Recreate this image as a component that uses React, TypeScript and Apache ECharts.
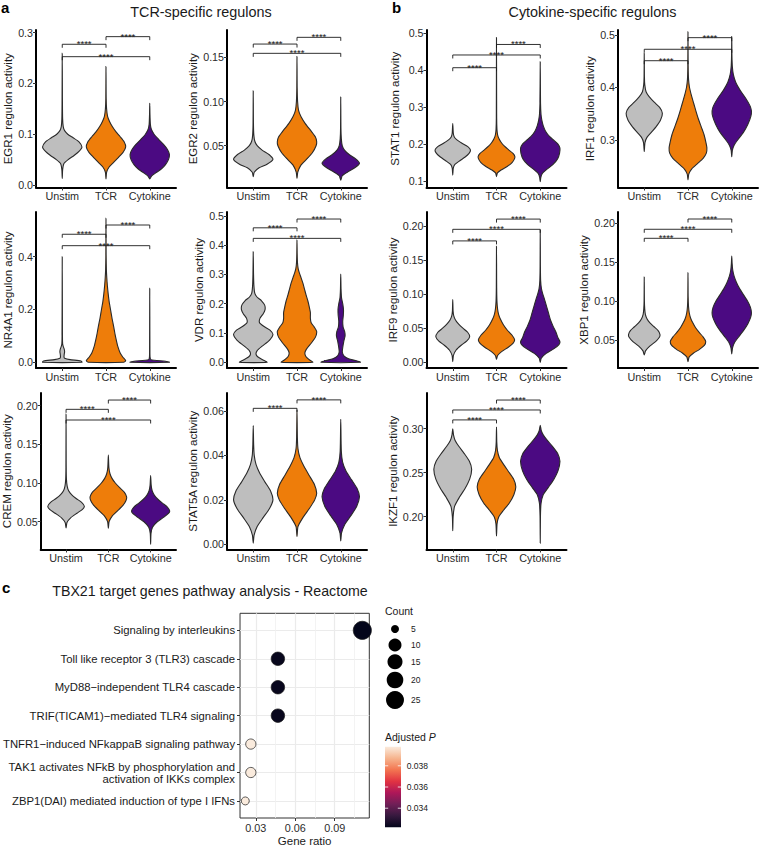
import React, { useEffect, useRef } from 'react';
import * as echarts from 'echarts';

const FONT = '"Liberation Sans", Arial, Helvetica, sans-serif';

const categories = ['Unstim', 'TCR', 'Cytokine'];
const groupColors = ['#BEBEBE', '#EE7D0A', '#4B0A82'];

// ---- Violin profiles: [regulon activity, relative half-width] ----
const egr1Unstim = [[0.013,0],[0.03,0.02],[0.042,0.08],[0.05,0.3],[0.058,0.6],[0.066,0.85],[0.075,1],[0.085,0.85],[0.093,0.55],[0.1,0.28],[0.107,0.12],[0.115,0.05],[0.13,0.02],[0.16,0.01],[0.259,0]];
const egr1TCR = [[0.012,0],[0.025,0.03],[0.035,0.15],[0.045,0.4],[0.055,0.65],[0.065,0.88],[0.075,1],[0.085,0.92],[0.095,0.72],[0.105,0.5],[0.115,0.32],[0.125,0.18],[0.135,0.08],[0.15,0.03],[0.17,0.01],[0.233,0]];
const egr1Cytokine = [[0.012,0],[0.018,0.1],[0.025,0.35],[0.032,0.6],[0.04,0.8],[0.05,0.95],[0.06,1],[0.07,0.9],[0.08,0.7],[0.09,0.45],[0.1,0.22],[0.11,0.08],[0.12,0.03],[0.14,0.01],[0.161,0]];

const egr2Unstim = [[0.015,0],[0.02,0.05],[0.025,0.3],[0.029,0.7],[0.0345,1],[0.04,0.8],[0.045,0.45],[0.05,0.2],[0.055,0.08],[0.062,0.03],[0.075,0.01],[0.112,0]];
const egr2TCR = [[0.013,0],[0.02,0.04],[0.028,0.2],[0.035,0.5],[0.042,0.78],[0.05,0.97],[0.0545,1],[0.06,0.93],[0.067,0.7],[0.075,0.42],[0.083,0.2],[0.09,0.08],[0.1,0.03],[0.115,0.01],[0.151,0]];
const egr2Cytokine = [[0.011,0],[0.016,0.08],[0.02,0.35],[0.025,0.75],[0.03,1],[0.035,0.8],[0.04,0.45],[0.045,0.2],[0.05,0.08],[0.058,0.03],[0.07,0.01],[0.105,0]];

const stat1Unstim = [[0.116,0],[0.135,0.03],[0.145,0.12],[0.155,0.4],[0.165,0.7],[0.175,0.92],[0.184,1],[0.193,0.85],[0.203,0.5],[0.212,0.22],[0.22,0.08],[0.23,0.03],[0.256,0]];
const stat1TCR = [[0.112,0],[0.122,0.05],[0.13,0.25],[0.14,0.6],[0.15,0.85],[0.16,0.98],[0.167,1],[0.175,0.9],[0.185,0.65],[0.195,0.42],[0.205,0.25],[0.215,0.13],[0.225,0.06],[0.24,0.025],[0.27,0.01],[0.489,0]];
const stat1Cytokine = [[0.098,0],[0.11,0.03],[0.12,0.1],[0.13,0.3],[0.145,0.65],[0.16,0.88],[0.175,0.98],[0.189,1],[0.2,0.9],[0.21,0.7],[0.22,0.48],[0.235,0.27],[0.25,0.15],[0.265,0.08],[0.28,0.04],[0.31,0.015],[0.423,0]];

const irf1Unstim = [[0.278,0],[0.295,0.04],[0.305,0.15],[0.315,0.4],[0.325,0.65],[0.338,0.9],[0.351,1],[0.362,0.85],[0.372,0.55],[0.382,0.28],[0.392,0.1],[0.405,0.03],[0.42,0.01],[0.465,0]];
const irf1TCR = [[0.224,0],[0.235,0.04],[0.245,0.2],[0.255,0.5],[0.265,0.8],[0.275,0.97],[0.285,1],[0.295,0.95],[0.31,0.85],[0.325,0.7],[0.34,0.55],[0.355,0.42],[0.37,0.3],[0.385,0.18],[0.4,0.08],[0.415,0.03],[0.44,0.01],[0.506,0]];
const irf1Cytokine = [[0.268,0],[0.28,0.03],[0.29,0.12],[0.3,0.3],[0.315,0.6],[0.33,0.82],[0.345,0.97],[0.355,1],[0.365,0.93],[0.38,0.7],[0.395,0.42],[0.41,0.2],[0.425,0.08],[0.44,0.03],[0.46,0.01],[0.497,0]];

const nr4a1Unstim = [[0,1],[0.005,0.95],[0.01,0.4],[0.015,0.12],[0.02,0.09],[0.03,0.1],[0.04,0.12],[0.05,0.1],[0.06,0.05],[0.07,0.02],[0.1,0.01],[0.4,0]];
const nr4a1TCR = [[0,0.9],[0.006,1],[0.02,0.85],[0.035,0.72],[0.06,0.6],[0.085,0.52],[0.11,0.45],[0.135,0.39],[0.165,0.31],[0.2,0.23],[0.23,0.16],[0.26,0.11],[0.29,0.07],[0.32,0.04],[0.35,0.02],[0.4,0.008],[0.545,0]];
const nr4a1Cytokine = [[0,1],[0.004,0.8],[0.01,0.06],[0.02,0.015],[0.05,0.008],[0.28,0]];

const vdrUnstim = [[0,0.7],[0.008,0.5],[0.018,0.24],[0.028,0.14],[0.04,0.2],[0.055,0.45],[0.075,0.82],[0.095,1],[0.11,0.85],[0.122,0.55],[0.135,0.32],[0.15,0.34],[0.165,0.5],[0.18,0.6],[0.195,0.58],[0.21,0.42],[0.222,0.2],[0.235,0.08],[0.26,0.035],[0.3,0.015],[0.377,0]];
const vdrTCR = [[0,0.8],[0.01,0.6],[0.02,0.45],[0.032,0.4],[0.045,0.48],[0.065,0.72],[0.085,0.93],[0.105,1],[0.12,0.88],[0.135,0.72],[0.15,0.68],[0.17,0.68],[0.19,0.62],[0.21,0.55],[0.23,0.46],[0.25,0.38],[0.27,0.3],[0.29,0.2],[0.305,0.12],[0.32,0.06],[0.34,0.025],[0.37,0.01],[0.417,0]];
const vdrCytokine = [[0,1],[0.005,0.8],[0.012,0.4],[0.022,0.16],[0.035,0.08],[0.05,0.1],[0.07,0.15],[0.09,0.22],[0.105,0.2],[0.12,0.12],[0.14,0.1],[0.16,0.13],[0.18,0.14],[0.2,0.1],[0.22,0.04],[0.25,0.015],[0.301,0]];

const irf9Unstim = [[0.001,0],[0.01,0.04],[0.018,0.2],[0.025,0.5],[0.031,0.82],[0.0375,1],[0.044,0.88],[0.05,0.6],[0.056,0.35],[0.062,0.16],[0.068,0.06],[0.075,0.02],[0.092,0]];
const irf9TCR = [[0.0044,0],[0.01,0.06],[0.016,0.3],[0.022,0.65],[0.028,0.92],[0.033,1],[0.04,0.85],[0.047,0.6],[0.055,0.38],[0.063,0.22],[0.07,0.12],[0.078,0.06],[0.09,0.025],[0.11,0.01],[0.17,0]];
const irf9Cytokine = [[0,0],[0.006,0.05],[0.013,0.3],[0.02,0.7],[0.026,0.95],[0.03,1],[0.036,0.9],[0.044,0.8],[0.053,0.65],[0.062,0.52],[0.072,0.42],[0.082,0.32],[0.092,0.22],[0.1,0.13],[0.108,0.06],[0.12,0.02],[0.14,0.008],[0.194,0]];

const xbp1Unstim = [[0.0307,0],[0.036,0.08],[0.042,0.35],[0.048,0.72],[0.0535,0.96],[0.057,1],[0.062,0.88],[0.067,0.62],[0.072,0.36],[0.077,0.18],[0.083,0.07],[0.09,0.03],[0.1,0.01],[0.131,0]];
const xbp1TCR = [[0.022,0],[0.028,0.06],[0.033,0.3],[0.038,0.65],[0.043,0.92],[0.048,1],[0.054,0.85],[0.06,0.62],[0.066,0.42],[0.072,0.27],[0.078,0.15],[0.085,0.07],[0.093,0.03],[0.105,0.01],[0.1365,0]];
const xbp1Cytokine = [[0.032,0],[0.04,0.04],[0.047,0.15],[0.055,0.38],[0.063,0.62],[0.071,0.82],[0.079,0.96],[0.085,1],[0.092,0.95],[0.1,0.8],[0.108,0.6],[0.116,0.4],[0.124,0.24],[0.132,0.12],[0.14,0.05],[0.148,0.02],[0.158,0]];

const cremUnstim = [[0.042,0],[0.049,0.05],[0.055,0.25],[0.061,0.6],[0.066,0.9],[0.07,1],[0.075,0.85],[0.08,0.55],[0.085,0.3],[0.09,0.14],[0.096,0.06],[0.105,0.02],[0.12,0.008],[0.189,0]];
const cremTCR = [[0.0415,0],[0.05,0.04],[0.057,0.2],[0.064,0.5],[0.071,0.8],[0.077,0.96],[0.082,1],[0.088,0.88],[0.094,0.62],[0.1,0.38],[0.106,0.2],[0.112,0.09],[0.12,0.03],[0.136,0]];
const cremCytokine = [[0.0208,0],[0.035,0.02],[0.043,0.1],[0.05,0.35],[0.056,0.7],[0.061,0.95],[0.064,1],[0.069,0.88],[0.074,0.62],[0.079,0.38],[0.084,0.2],[0.09,0.08],[0.097,0.03],[0.1095,0]];

const stat5aUnstim = [[0.0005,0],[0.004,0.04],[0.008,0.2],[0.012,0.5],[0.016,0.82],[0.02,1],[0.024,0.88],[0.028,0.6],[0.032,0.33],[0.036,0.14],[0.04,0.05],[0.045,0.02],[0.0534,0]];
const stat5aTCR = [[0.0034,0],[0.008,0.05],[0.012,0.3],[0.016,0.62],[0.02,0.9],[0.023,1],[0.027,0.88],[0.031,0.62],[0.035,0.36],[0.039,0.15],[0.043,0.05],[0.048,0.02],[0.0604,0]];
const stat5aCytokine = [[0.0015,0],[0.005,0.04],[0.009,0.22],[0.013,0.55],[0.017,0.85],[0.0214,1],[0.025,0.88],[0.029,0.58],[0.033,0.28],[0.037,0.1],[0.042,0.03],[0.0563,0]];

const ikzf1Unstim = [[0.184,0],[0.2,0.02],[0.212,0.1],[0.222,0.35],[0.232,0.65],[0.243,0.9],[0.254,1],[0.263,0.88],[0.272,0.6],[0.28,0.32],[0.287,0.12],[0.293,0.04],[0.3,0]];
const ikzf1TCR = [[0.178,0],[0.192,0.03],[0.2,0.12],[0.207,0.35],[0.215,0.65],[0.225,0.9],[0.234,1],[0.243,0.88],[0.252,0.6],[0.26,0.35],[0.267,0.15],[0.275,0.05],[0.285,0.015],[0.302,0]];
const ikzf1Cytokine = [[0.17,0],[0.2,0.01],[0.215,0.04],[0.225,0.15],[0.233,0.4],[0.242,0.68],[0.252,0.9],[0.263,1],[0.272,0.88],[0.28,0.62],[0.287,0.35],[0.293,0.15],[0.298,0.05],[0.304,0]];

// relative maximum widths of the three violins (Unstim, TCR, Cytokine)
const egr1Widths = [1, 1, 1];
const egr2Widths = [1, 1, 0.95];
const stat1Widths = [0.9, 0.93, 1];
const irf1Widths = [0.92, 0.96, 1];
const nr4a1Widths = [1, 1, 1];
const vdrWidths = [1, 1, 1];
const irf9Widths = [0.86, 0.92, 1];
const xbp1Widths = [0.8, 0.9, 1];
const cremWidths = [0.96, 0.96, 1];
const stat5aWidths = [1, 1, 0.95];
const ikzf1Widths = [0.96, 0.98, 1];

// significance brackets: [from group, to group, activity level]
const egr1Brackets = [[1, 2, 0.277], [2, 3, 0.292], [1, 3, 0.2526]];
const egr2Brackets = [[1, 2, 0.165], [2, 3, 0.1726], [1, 3, 0.1545]];
const stat1Brackets = [[1, 2, 0.407], [1, 3, 0.4415], [2, 3, 0.47]];
const irf1Brackets = [[1, 2, 0.451], [1, 3, 0.4728], [2, 3, 0.4949]];
const nr4a1Brackets = [[1, 2, 0.485], [2, 3, 0.52], [1, 3, 0.4417]];
const vdrBrackets = [[1, 2, 0.459], [2, 3, 0.489], [1, 3, 0.423]];
const irf9Brackets = [[1, 2, 0.178], [1, 3, 0.195], [2, 3, 0.21]];
const xbp1Brackets = [[1, 2, 0.1807], [1, 3, 0.1923], [2, 3, 0.2055]];
const cremBrackets = [[1, 2, 0.1952], [2, 3, 0.2072], [1, 3, 0.1814]];
const stat5aBrackets = [[1, 2, 0.0612], [2, 3, 0.065]];
const ikzf1Brackets = [[1, 2, 0.31], [1, 3, 0.3213], [2, 3, 0.3326]];
const sigLabel = '****';

// y tick values
const egr1Ticks = [0, 0.1, 0.2, 0.3];
const egr2Ticks = [0.05, 0.1, 0.15];
const stat1Ticks = [0.1, 0.2, 0.3, 0.4, 0.5];
const irf1Ticks = [0.3, 0.4, 0.5];
const nr4a1Ticks = [0, 0.2, 0.4];
const vdrTicks = [0, 0.1, 0.2, 0.3, 0.4, 0.5];
const irf9Ticks = [0, 0.05, 0.1, 0.15, 0.2];
const xbp1Ticks = [0.05, 0.1, 0.15, 0.2];
const cremTicks = [0.05, 0.1, 0.15, 0.2];
const stat5aTicks = [0, 0.02, 0.04, 0.06];
const ikzf1Ticks = [0.2, 0.25, 0.3];

// ---- Pathway dot plot ----
const pathways = [
  'Signaling by interleukins',
  'Toll like receptor 3 (TLR3) cascade',
  'MyD88\u2212independent TLR4 cascade',
  'TRIF(TICAM1)\u2212mediated TLR4 signaling',
  'TNFR1\u2212induced NFkappaB signaling pathway',
  'TAK1 activates NFkB by phosphorylation and\nactivation of IKKs complex',
  'ZBP1(DAI) mediated induction of type I IFNs',
];
const geneRatio = [0.111, 0.0468, 0.0468, 0.0468, 0.0262, 0.0262, 0.022];
const geneCount = [26, 11, 11, 11, 6, 6, 5];
const adjP = [0.0322, 0.0323, 0.0323, 0.0323, 0.0398, 0.0398, 0.0398];
const ratioTicks = [0.03, 0.06, 0.09];
const ratioMinorTicks = [0.045, 0.075, 0.105];
const countBreaks = [5, 10, 15, 20, 25];
const pBreaks = [0.034, 0.036, 0.038];
const pRange = [0.0322, 0.0398];
const rocket = ['#03051A', '#36193E', '#701F57', '#AE1759', '#E13342', '#F37651', '#F6B48E', '#FAEBDD'];

// ---- layout ----
const colLeft = [36, 227, 426.5, 618];
const rowTop = [30, 212, 393];
const rowBottom = [187.5, 368, 549.5];
const panelWidth = 140;

const panels = [
  { gene: 'EGR1', col: 0, row: 0, min: -0.0049, max: 0.3051, ticks: egr1Ticks, dec: 1, gap: 17, violins: [egr1Unstim, egr1TCR, egr1Cytokine], widths: egr1Widths, brackets: egr1Brackets },
  { gene: 'EGR2', col: 1, row: 0, min: 0.0027, max: 0.1809, ticks: egr2Ticks, dec: 2, gap: 21, violins: [egr2Unstim, egr2TCR, egr2Cytokine], widths: egr2Widths, brackets: egr2Brackets },
  { gene: 'STAT1', col: 2, row: 0, min: 0.0824, max: 0.5092, ticks: stat1Ticks, dec: 1, gap: 25.5, violins: [stat1Unstim, stat1TCR, stat1Cytokine], widths: stat1Widths, brackets: stat1Brackets },
  { gene: 'IRF1', col: 3, row: 0, min: 0.2095, max: 0.5095, ticks: irf1Ticks, dec: 1, gap: 18.5, violins: [irf1Unstim, irf1TCR, irf1Cytokine], widths: irf1Widths, brackets: irf1Brackets },
  { gene: 'NR4A1', col: 0, row: 1, min: -0.0216, max: 0.5693, ticks: nr4a1Ticks, dec: 1, gap: 18.5, violins: [nr4a1Unstim, nr4a1TCR, nr4a1Cytokine], widths: nr4a1Widths, brackets: nr4a1Brackets },
  { gene: 'VDR', col: 1, row: 1, min: -0.0195, max: 0.513, ticks: vdrTicks, dec: 1, gap: 22.5, violins: [vdrUnstim, vdrTCR, vdrCytokine], widths: vdrWidths, brackets: vdrBrackets },
  { gene: 'IRF9', col: 2, row: 1, min: -0.0084, max: 0.2204, ticks: irf9Ticks, dec: 2, gap: 25.5, violins: [irf9Unstim, irf9TCR, irf9Cytokine], widths: irf9Widths, brackets: irf9Brackets },
  { gene: 'XBP1', col: 3, row: 1, min: 0.014, max: 0.2145, ticks: xbp1Ticks, dec: 2, gap: 22, violins: [xbp1Unstim, xbp1TCR, xbp1Cytokine], widths: xbp1Widths, brackets: xbp1Brackets },
  { gene: 'CREM', col: 0, row: 2, min: 0.0141, max: 0.2163, ticks: cremTicks, dec: 2, gap: 22.5, violins: [cremUnstim, cremTCR, cremCytokine], widths: cremWidths, brackets: cremBrackets },
  { gene: 'STAT5A', col: 1, row: 2, min: -0.00234, max: 0.0681, ticks: stat5aTicks, dec: 2, gap: 22.5, violins: [stat5aUnstim, stat5aTCR, stat5aCytokine], widths: stat5aWidths, brackets: stat5aBrackets },
  { gene: 'IKZF1', col: 2, row: 2, min: 0.1627, max: 0.3406, ticks: ikzf1Ticks, dec: 2, gap: 25, violins: [ikzf1Unstim, ikzf1TCR, ikzf1Cytokine], widths: ikzf1Widths, brackets: ikzf1Brackets },
];

const dotGrid = { left: 238.3, top: 613.3, width: 131, height: 206.7 };
const ratioMin = 0.018;
const ratioMax = 0.1163;

const countMin = 5;
const countMax = 26;
const sizeOf = (c: number) => 8 + 10.2 * Math.sqrt(Math.max(0, c - countMin) / (countMax - countMin));

function buildOption() {
  const grid: any[] = [];
  const xAxis: any[] = [];
  const yAxis: any[] = [];
  const series: any[] = [];
  const axisLineStyle = { color: '#000', width: 2 };

  panels.forEach((p, k) => {
    const top = rowTop[p.row];
    grid.push({ left: colLeft[p.col], top, width: panelWidth, height: rowBottom[p.row] - top });
    xAxis.push({
      gridIndex: k, type: 'value', min: 0.4, max: 3.6,
      axisLine: { show: true, onZero: false, lineStyle: axisLineStyle },
      axisTick: { show: true, customValues: [1, 2, 3], length: 3, lineStyle: { color: '#333', width: 1 } },
      axisLabel: { customValues: [1, 2, 3], formatter: (v: number) => categories[Math.round(v) - 1], fontSize: 10.8, color: '#2b2b2b', margin: 3, fontFamily: FONT },
      splitLine: { show: false },
    });
    yAxis.push({
      gridIndex: k, type: 'value', min: p.min, max: p.max,
      axisLine: { show: true, onZero: false, lineStyle: axisLineStyle },
      axisTick: { show: true, customValues: p.ticks, length: 3, lineStyle: { color: '#333', width: 1 } },
      axisLabel: { customValues: p.ticks, formatter: (v: number) => v.toFixed(p.dec), fontSize: 10.7, color: '#2b2b2b', margin: 3, fontFamily: FONT },
      splitLine: { show: false },
      name: p.gene + ' regulon activity', nameLocation: 'middle', nameGap: p.gap,
      nameTextStyle: { fontSize: 11.5, color: '#1a1a1a', fontFamily: FONT },
    });
    const profiles = p.violins;
    const widths = p.widths;
    series.push({
      type: 'custom', xAxisIndex: k, yAxisIndex: k, clip: false,
      data: profiles.map((pr, i) => [i + 1, pr[0][0], pr[pr.length - 1][0]]),
      encode: { x: 0, y: [1, 2] },
      renderItem: (params: any, api: any) => {
        const i = params.dataIndex;
        const prof = profiles[i];
        const cat = api.value(0);
        const s = widths[i] * 0.45;
        const right = prof.map(([v, w]) => api.coord([cat + w * s, v]));
        const left = prof.slice().reverse().filter(([, w]) => w > 0).map(([v, w]) => api.coord([cat - w * s, v]));
        return {
          type: 'polygon',
          shape: { points: right.concat(left), smooth: 0.2 },
          style: { fill: groupColors[i], stroke: '#2a2a2a', lineWidth: 1.1 },
        };
      },
    });
    series.push({
      type: 'custom', xAxisIndex: k, yAxisIndex: k, clip: false,
      data: p.brackets,
      encode: { x: [0, 1], y: 2 },
      renderItem: (params: any, api: any) => {
        const a = api.coord([api.value(0), api.value(2)]);
        const b = api.coord([api.value(1), api.value(2)]);
        return {
          type: 'group',
          children: [
            { type: 'polyline', shape: { points: [[a[0], a[1] + 3.5], [a[0], a[1]], [b[0], b[1]], [b[0], b[1] + 3.5]] }, style: { stroke: '#1a1a1a', lineWidth: 0.9, fill: null } },
            { type: 'text', x: (a[0] + b[0]) / 2, y: a[1] - 0.5, style: { text: sigLabel, fontSize: 9.5, fontFamily: FONT, fill: '#1a1a1a', align: 'center', verticalAlign: 'middle', textAlign: 'center', textVerticalAlign: 'middle' } },
          ],
        };
      },
    });
  });

  // dot plot
  const g = panels.length;
  grid.push({ ...dotGrid, show: true, borderColor: '#333', borderWidth: 1, backgroundColor: 'transparent' });
  const dotX = xAxis.length;
  xAxis.push({
    gridIndex: g, type: 'value', min: ratioMin, max: ratioMax, position: 'bottom',
    axisLine: { show: false },
    axisTick: { show: true, customValues: ratioTicks, length: 3, lineStyle: { color: '#333' } },
    axisLabel: { customValues: ratioTicks, formatter: (v: number) => v.toFixed(2), fontSize: 10.8, color: '#2b2b2b', margin: 4, fontFamily: FONT },
    splitLine: { show: true, lineStyle: { color: '#EBEBEB', width: 1.2 } },
    name: 'Gene ratio', nameLocation: 'middle', nameGap: 17,
    nameTextStyle: { fontSize: 11.5, color: '#1a1a1a', fontFamily: FONT },
  });
  xAxis.push({
    gridIndex: g, type: 'value', min: ratioMin, max: ratioMax, position: 'top',
    axisLine: { show: false },
    axisTick: { show: false, customValues: ratioMinorTicks },
    axisLabel: { show: false },
    splitLine: { show: true, lineStyle: { color: '#F0F0F0', width: 0.8 } },
  });
  const dotY = yAxis.length;
  yAxis.push({
    gridIndex: g, type: 'value', min: 0.4, max: 7.6, inverse: true,
    axisLine: { show: false },
    axisTick: { show: true, customValues: [1, 2, 3, 4, 5, 6, 7], length: 3, lineStyle: { color: '#333' } },
    axisLabel: { customValues: [1, 2, 3, 4, 5, 6, 7], formatter: (v: number) => pathways[Math.round(v) - 1], fontSize: 11.3, color: '#1a1a1a', margin: 5, lineHeight: 12, fontFamily: FONT },
    splitLine: { show: true, lineStyle: { color: '#EBEBEB', width: 1.2 } },
  });
  const dotSeries = series.length;
  series.push({
    type: 'scatter', xAxisIndex: dotX, yAxisIndex: dotY, clip: false,
    data: pathways.map((_, i) => [geneRatio[i], i + 1, geneCount[i], adjP[i]]),
    encode: { x: 0, y: 1 },
    symbolSize: (v: number[]) => sizeOf(v[2]),
    itemStyle: { borderColor: '#1a1a1a', borderWidth: 0.7, opacity: 1 },
  });

  // legends & texts
  const graphic: any[] = [];
  const txt = (x: number, y: number, text: string, o: any = {}) => ({
    type: 'text', x, y,
    style: { text, fontFamily: FONT, fill: o.fill || '#1a1a1a', fontSize: o.fontSize || 11, fontWeight: o.fontWeight || 'normal',
      align: o.align || 'left', textAlign: o.align || 'left', verticalAlign: 'middle', textVerticalAlign: 'middle' },
  });
  graphic.push(txt(1, 7, 'a', { fontSize: 15, fontWeight: 'bold', fill: '#000' }));
  graphic.push(txt(392, 7, 'b', { fontSize: 15, fontWeight: 'bold', fill: '#000' }));
  graphic.push(txt(2, 587, 'c', { fontSize: 15, fontWeight: 'bold', fill: '#000' }));
  graphic.push(txt(201, 11.5, 'TCR-specific regulons', { fontSize: 14.4, align: 'center' }));
  graphic.push(txt(592.5, 11.5, 'Cytokine-specific regulons', { fontSize: 14.4, align: 'center' }));
  graphic.push(txt(210, 591, 'TBX21 target genes pathway analysis - Reactome', { fontSize: 14.2, align: 'center' }));

  // size legend
  const keyY = [629, 645, 661.7, 680, 700];
  graphic.push(txt(385, 610.7, 'Count', { fontSize: 10.5 }));
  countBreaks.forEach((c, i) => {
    graphic.push({ type: 'circle', shape: { cx: 395, cy: keyY[i], r: sizeOf(c) / 2 }, style: { fill: '#000' } });
    graphic.push(txt(411, keyY[i], String(c), { fontSize: 8.5 }));
  });

  // colour bar legend
  const bar = { x: 385, y: 746.7, w: 16, h: 80.6 };
  graphic.push({
    type: 'text', x: 385, y: 736.7,
    style: { text: '{n|Adjusted }{p|P}', fontFamily: FONT, fill: '#1a1a1a', fontSize: 10.5, verticalAlign: 'middle', textVerticalAlign: 'middle',
      rich: { n: { fontSize: 10.5, fontFamily: FONT, fill: '#1a1a1a' }, p: { fontSize: 10.5, fontStyle: 'italic', fontFamily: FONT, fill: '#1a1a1a' } } },
  });
  const stops = rocket.map((c, i) => ({ offset: 1 - i / (rocket.length - 1), color: c }));
  stops.reverse();
  graphic.push({ type: 'rect', shape: { x: bar.x, y: bar.y, width: bar.w, height: bar.h }, style: { fill: new echarts.graphic.LinearGradient(0, 0, 0, 1, stops) } });
  pBreaks.forEach((pv) => {
    const yy = bar.y + ((pRange[1] - pv) / (pRange[1] - pRange[0])) * bar.h;
    graphic.push({ type: 'line', shape: { x1: bar.x, y1: yy, x2: bar.x + 3.2, y2: yy }, style: { stroke: '#fff', lineWidth: 0.8 } });
    graphic.push({ type: 'line', shape: { x1: bar.x + bar.w - 3.2, y1: yy, x2: bar.x + bar.w, y2: yy }, style: { stroke: '#fff', lineWidth: 0.8 } });
    graphic.push(txt(406.7, yy, pv.toFixed(3), { fontSize: 8.5 }));
  });

  return {
    animation: false,
    backgroundColor: '#fff',
    textStyle: { fontFamily: FONT },
    grid, xAxis, yAxis, series, graphic,
    visualMap: [{ type: 'continuous', show: false, dimension: 3, seriesIndex: dotSeries, min: pRange[0], max: pRange[1], inRange: { color: rocket } }],
  };
}

export default function App() {
  const ref = useRef<HTMLDivElement>(null);
  useEffect(() => {
    if (!ref.current) return;
    const chart = echarts.init(ref.current, undefined, { renderer: 'svg' });
    chart.setOption(buildOption() as any);
    return () => chart.dispose();
  }, []);
  return <div ref={ref} style={{ position: 'absolute', left: 0, top: 0, width: 760, height: 848, background: '#fff' }} />;
}
